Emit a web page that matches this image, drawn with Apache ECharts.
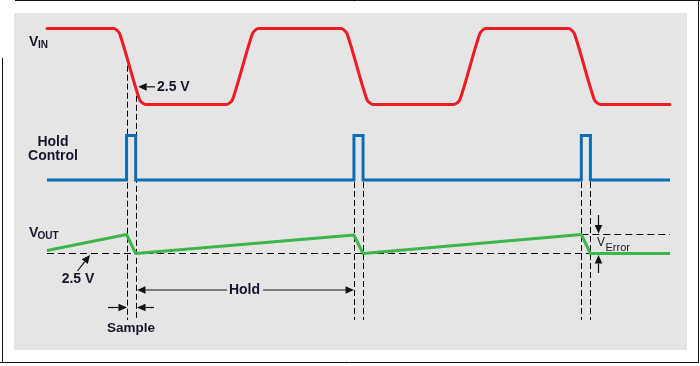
<!DOCTYPE html>
<html>
<head>
<meta charset="utf-8">
<script src="https://cdn.jsdelivr.net/npm/echarts@6/dist/echarts.min.js"></script>
<style>
html,body{margin:0;padding:0;background:#ffffff;}
#chart{width:700px;height:366px;}
</style>
</head>
<body>
<div id="chart"></div>
<script>
// ---- data (time in arbitrary units, one input period = 10) ----
// VIN trapezoid, with the points where each rounded corner meets the straight edges
const vinTime   = [0, 2.93, 3.19, 4.07, 4.33, 7.9, 8.16, 9.04, 9.3, 12.93, 13.19, 14.07, 14.33,
                   17.9, 18.16, 19.04, 19.3, 22.93, 23.19, 24.07, 24.33, 27.4];
const vinVolts  = [5, 5, 4.68, 0.32, 0, 0, 0.32, 4.68, 5, 5, 4.68, 0.32, 0,
                   0, 0.32, 4.68, 5, 5, 4.68, 0.32, 0, 0];
const holdTime  = [0, 3.5, 3.5, 3.9, 3.9, 13.5, 13.5, 13.9, 13.9, 23.5, 23.5, 23.9, 23.9, 27.4];
const holdLevel = [0, 0, 1, 1, 0, 0, 1, 1, 0, 0, 1, 1, 0, 0];
const voutTime  = [0, 3.5, 3.9, 13.5, 13.9, 23.5, 23.9, 27.4];
const voutVolts = [2.516, 2.6, 2.5, 2.597, 2.5, 2.6, 2.5, 2.5];
const sampleStart = [3.5, 13.5, 23.5];
const sampleEnd   = [3.9, 13.9, 23.9];
const refVolts = 2.5;
const errTopVolts = 2.6;
const tEnd = 27.4;

const zip = (a, b) => a.map((v, i) => [v, b[i]]);

const RED = '#ee1c25', BLUE = '#0a6db8', GREEN = '#3cb54a', INK = '#16162a';
const FONT = '"Liberation Sans", Arial, sans-serif';

const chart = echarts.init(document.getElementById('chart'), null, {renderer: 'canvas'});

const grids = [
  {left: 47, width: 623, top: 28.5, height: 76},
  {left: 47, width: 623, top: 135.5, height: 44.5},
  {left: 47, width: 623, top: 234.5, height: 19}
];

chart.setOption({
  animation: false,
  backgroundColor: '#ffffff',
  grid: grids,
  xAxis: grids.map((g, i) => ({type: 'value', gridIndex: i, min: 0, max: tEnd, show: false})),
  yAxis: [
    {type: 'value', gridIndex: 0, min: 0, max: 5, show: false},
    {type: 'value', gridIndex: 1, min: 0, max: 1, show: false},
    {type: 'value', gridIndex: 2, min: 2.5, max: 2.6, show: false}
  ],
  series: [
    {type: 'line', name: 'VIN', xAxisIndex: 0, yAxisIndex: 0, data: zip(vinTime, vinVolts),
     showSymbol: false, symbol: 'none', clip: false, z: 5, smooth: 0.25,
     lineStyle: {color: RED, width: 3, join: 'round', cap: 'round'}},
    {type: 'line', name: 'Hold', xAxisIndex: 1, yAxisIndex: 1, data: zip(holdTime, holdLevel),
     showSymbol: false, symbol: 'none', clip: false, z: 5,
     lineStyle: {color: BLUE, width: 3, join: 'miter'}},
    {type: 'line', name: 'ref', xAxisIndex: 2, yAxisIndex: 2, data: [[0, refVolts], [tEnd, refVolts]],
     showSymbol: false, symbol: 'none', clip: false, z: 3,
     lineStyle: {color: '#000', width: 1, type: [7, 4]}},
    {type: 'line', name: 'errTop', xAxisIndex: 2, yAxisIndex: 2,
     data: [[sampleStart[2], errTopVolts], [tEnd, errTopVolts]],
     showSymbol: false, symbol: 'none', clip: false, z: 3,
     lineStyle: {color: '#000', width: 1, type: [7, 4]}},
    {type: 'line', name: 'VOUT', xAxisIndex: 2, yAxisIndex: 2, data: zip(voutTime, voutVolts),
     showSymbol: false, symbol: 'none', clip: false, z: 5,
     lineStyle: {color: GREEN, width: 3, join: 'round'}}
  ]
});

// ---- annotations positioned through the chart's scales ----
const P = (gi, t, v) => chart.convertToPixel({gridIndex: gi}, [t, v]);
function vinAt(t) {
  for (let i = 1; i < vinTime.length; i++) {
    if (t <= vinTime[i]) {
      const f = (t - vinTime[i - 1]) / (vinTime[i] - vinTime[i - 1]);
      return vinVolts[i - 1] + f * (vinVolts[i] - vinVolts[i - 1]);
    }
  }
  return vinVolts[vinVolts.length - 1];
}
const al = x => Math.round(x) + 0.5;
const g = [];
// panel and frame
g.push({type: 'rect', z: -10, shape: {x: 14, y: 13, width: 673, height: 337}, style: {fill: '#e5e5e5'}});
const frame = [[15, 0.5, 700, 0.5], [698.5, 0, 698.5, 362], [0, 362.5, 699, 362.5], [2.5, 58, 2.5, 362]];
frame.forEach(f => g.push({type: 'line', z: -5, shape: {x1: f[0], y1: f[1], x2: f[2], y2: f[3]}, style: {stroke: '#111', lineWidth: 1}}));

const holdBase = P(1, 0, 0)[1];
const bottomY = 320;
function vdash(x, y1, y2) {
  g.push({type: 'line', z: 1, shape: {x1: al(x), y1: y1, x2: al(x), y2: y2}, style: {stroke: '#000', lineWidth: 1, lineDash: [6, 3]}});
}
sampleStart.forEach((t0, k) => {
  const t1 = sampleEnd[k];
  const x0 = P(0, t0, 0)[0], x1 = P(0, t1, 0)[0];
  const top0 = k === 0 ? P(0, t0, vinAt(t0))[1] : holdBase + 2;
  const top1 = k === 0 ? P(0, t1, vinAt(t1))[1] : holdBase + 2;
  vdash(x0, top0, bottomY);
  vdash(x1, top1, bottomY);
});

function arrow(tx, ty, fx, fy, L, W) {
  const dx = tx - fx, dy = ty - fy, len = Math.hypot(dx, dy);
  const ux = dx / len, uy = dy / len;
  L = L || 8.5; W = W || 3.8;
  const bx = tx - ux * L, by = ty - uy * L;
  g.push({type: 'line', z: 6, shape: {x1: fx, y1: fy, x2: bx, y2: by}, style: {stroke: '#111', lineWidth: 1.2}});
  g.push({type: 'polygon', z: 6, shape: {points: [[tx, ty], [bx - uy * W, by + ux * W], [bx + uy * W, by - ux * W]]}, style: {fill: '#111'}});
}
function text(str, x, y, size, weight, align) {
  g.push({type: 'text', z: 7, x: x, y: y, style: {text: str, font: (weight || 'bold') + ' ' + size + 'px ' + FONT, fill: INK, align: align || 'left', verticalAlign: 'middle'}});
}

const xs0 = P(0, sampleStart[0], 0)[0], xe0 = P(0, sampleEnd[0], 0)[0];
const xs1 = P(0, sampleStart[1], 0)[0];

// top "2.5 V" pointer
const yCross = P(0, sampleEnd[0], vinAt(sampleEnd[0]))[1];
arrow(xe0 + 2.5, yCross, 155, yCross);
text('2.5 V', 157, yCross, 14);

// lower "2.5 V" pointer
const yRef = P(2, 0, refVolts)[1];
arrow(90, yRef + 1.5, 77.5, 271);
text('2.5 V', 78, 279.5, 14, 'bold', 'center');

// Hold span
arrow(al(xe0) + 0.5, 290, 227, 290);
arrow(al(xs1) - 0.5, 290, 263, 290);
text('Hold', 244.5, 290, 14, 'bold', 'center');

// Sample span
arrow(al(xs0) - 0.5, 307.5, 108, 307.5);
arrow(al(xe0) + 0.5, 307.5, 154, 307.5);
text('Sample', 131, 328, 13.5, 'bold', 'center');

// V error
const yErrTop = P(2, 0, errTopVolts)[1];
const xe = 598.5;
arrow(xe, yErrTop - 1, xe, 215);
arrow(xe, yRef + 1.5, xe, 273);
text('V', 597, 242.5, 12, 'normal');
text('Error', 605.5, 247.5, 11, 'normal');

// signal names
text('V', 29, 42, 14);
text('IN', 38, 45, 10);
text('Hold', 53, 141.7, 14, 'bold', 'center');
text('Control', 53, 155.7, 14, 'bold', 'center');
text('V', 29, 233, 14);
text('OUT', 37.5, 236, 10);

chart.setOption({graphic: {elements: g}});
</script>
</body>
</html>
